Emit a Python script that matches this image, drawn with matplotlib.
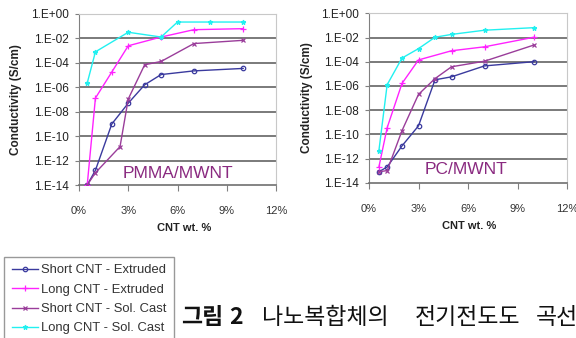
import matplotlib
matplotlib.use("Agg")
import matplotlib.pyplot as plt
from matplotlib.ticker import FixedLocator, FuncFormatter, NullLocator

# ---------------- data ----------------
series_names = ["Short CNT - Extruded", "Long CNT - Extruded",
                "Short CNT - Sol. Cast", "Long CNT - Sol. Cast"]

# PMMA/MWNT (left panel)
pmma_short_ext_x = [0.5, 1, 2, 3, 4, 5, 7, 10]
pmma_short_ext_y = [1e-14, 1.6e-13, 1e-9, 5e-8, 1.6e-6, 1.1e-5, 2.2e-5, 3.5e-5]
pmma_long_ext_x = [0.5, 1, 2, 3, 5, 7, 10]
pmma_long_ext_y = [1e-14, 1.3e-7, 1.8e-5, 2.5e-3, 1.3e-2, 5.2e-2, 6.3e-2]
pmma_short_sol_x = [0.5, 1, 2.5, 3, 4, 5, 7, 10]
pmma_short_sol_y = [1e-14, 1e-13, 1.4e-11, 1.1e-7, 7e-5, 1.3e-4, 3.8e-3, 7e-3]
pmma_long_sol_x = [0.5, 1, 3, 5, 6, 8, 10]
pmma_long_sol_y = [2.2e-6, 8e-4, 3.2e-2, 1.3e-2, 0.22, 0.22, 0.22]

# PC/MWNT (right panel)
pc_short_ext_x = [0.6, 1.1, 2, 3, 4, 5, 7, 10]
pc_short_ext_y = [8e-14, 2e-13, 1.1e-11, 5e-10, 3.2e-6, 5.6e-6, 4.5e-5, 1e-4]
pc_long_ext_x = [0.6, 1.1, 2, 3, 5, 7, 10]
pc_long_ext_y = [2e-13, 3.5e-10, 1.6e-6, 1.4e-4, 8e-4, 1.7e-3, 1.05e-2]
pc_short_sol_x = [0.6, 1.1, 2, 3, 4, 5, 7, 10]
pc_short_sol_y = [8e-14, 1e-13, 2e-10, 2e-7, 4e-6, 3.8e-5, 1.1e-4, 2.4e-3]
pc_long_sol_x = [0.6, 1.1, 2, 3, 4, 5, 7, 10]
pc_long_sol_y = [4.5e-12, 1.25e-6, 2e-4, 1.2e-3, 1.05e-2, 1.8e-2, 4e-2, 6.5e-2]

panel_titles = ["PMMA/MWNT", "PC/MWNT"]
y_ticks = [1e-14, 1e-12, 1e-10, 1e-8, 1e-6, 1e-4, 1e-2, 1e0]
x_ticks = [0, 3, 6, 9, 12]
x_label = "CNT wt. %"
y_label = "Conductivity (S/cm)"
caption_words = ["그림", "2", "나노복합체의", "전기전도도", "곡선"]

# ---------------- style ----------------
colors = ["#3a3a9e", "#ff22ff", "#9a3d9a", "#22f0f0"]
markers = ["o", "+", "x", "*"]
msizes = [3.2, 4.5, 3.5, 3.4]

plt.rcParams['font.family'] = ['Liberation Sans', 'DejaVu Sans']

W, H = 576, 338
fig = plt.figure(figsize=(W / 100, H / 100), dpi=100)


def ax_rect(x0, x1, ytop, ybot):
    return [x0 / W, 1 - ybot / H, (x1 - x0) / W, (ybot - ytop) / H]


axL = fig.add_axes(ax_rect(79, 276, 14, 185))
axR = fig.add_axes(ax_rect(369, 567, 13.3, 182.7))

panels = [
    (axL, [(pmma_short_ext_x, pmma_short_ext_y), (pmma_long_ext_x, pmma_long_ext_y),
           (pmma_short_sol_x, pmma_short_sol_y), (pmma_long_sol_x, pmma_long_sol_y)],
     panel_titles[0], (0.503, 0.07), (0.533, -0.222), -0.287),
    (axR, [(pc_short_ext_x, pc_short_ext_y), (pc_long_ext_x, pc_long_ext_y),
           (pc_short_sol_x, pc_short_sol_y), (pc_long_sol_x, pc_long_sol_y)],
     panel_titles[1], (0.4875, 0.078), (0.508, -0.226), -0.285),
]


def yfmt(v, pos):
    import math
    e = int(round(math.log10(v)))
    sign = "+" if e >= 0 else "-"
    return f"1.E{sign}{abs(e):02d}"


handles = []
for ax, data, title, tpos, xlpos, ylx in panels:
    ax.set_yscale("log")
    ax.set_ylim(1e-14, 1e0)
    ax.set_xlim(0, 12)
    for i, (xs, ys) in enumerate(data):
        mfc = "none" if markers[i] == "o" else colors[i]
        h, = ax.plot(xs, ys, color=colors[i], lw=1.0, marker=markers[i],
                     ms=msizes[i], mfc=mfc, mec=colors[i], mew=0.9,
                     label=series_names[i], zorder=3)
        if ax is axL:
            handles.append(h)
    ax.yaxis.set_major_locator(FixedLocator(y_ticks))
    ax.yaxis.set_minor_locator(NullLocator())
    ax.yaxis.set_major_formatter(FuncFormatter(yfmt))
    ax.xaxis.set_major_locator(FixedLocator(x_ticks))
    ax.xaxis.set_major_formatter(FuncFormatter(lambda v, p: f"{v:.0f}%"))
    for t in y_ticks[1:-1]:
        ax.axhline(t, color="#7a7a7a", lw=1.4, zorder=1)
    ax.tick_params(axis="y", direction="out", length=3, width=0.8,
                   color="#808080", labelsize=8.5, pad=4, labelcolor="#222222")
    ax.tick_params(axis="x", direction="out", length=4, width=0.8,
                   color="#808080", labelsize=8, pad=11, labelcolor="#333333")
    for s in ["top", "right"]:
        ax.spines[s].set_color("#c8c8c8")
        ax.spines[s].set_linewidth(0.8)
    ax.spines["left"].set_color("#808080")
    ax.spines["bottom"].set_color("#707070")
    ax.spines["bottom"].set_linewidth(1.2)
    ax.set_ylabel(y_label, fontsize=8.5, fontweight="bold", color="#222222")
    ax.yaxis.set_label_coords(ylx, 0.5)
    ax.set_xlabel(x_label, fontsize=8, fontweight="bold", color="#222222")
    ax.xaxis.set_label_coords(xlpos[0], xlpos[1])
    ax.text(tpos[0], tpos[1], title, transform=ax.transAxes, ha="center",
            va="center", fontsize=12.5, color="#8a2a80")

leg = fig.legend(handles=handles, loc="upper left",
                 bbox_to_anchor=(4 / W, 1 - 256.5 / H), fontsize=9.4,
                 frameon=True, fancybox=False, handlelength=2.0,
                 handletextpad=0.2, labelspacing=0.55, borderpad=0.6,
                 borderaxespad=0)
leg.get_frame().set_edgecolor("#808080")
leg.get_frame().set_linewidth(1.0)
for t in leg.get_texts():
    t.set_color("#333333")

cjk = ['Noto Sans CJK KR', 'DejaVu Sans']
cap_x = [181, 229.5, 262.5, 414.5, 536]
cap_bold = [True, True, False, False, False]
for word, x, b in zip(caption_words, cap_x, cap_bold):
    fig.text(x / W, 1 - 317 / H, word, family=cjk,
             fontweight="bold" if b else "normal",
             fontsize=16.5, ha="left", va="center", color="#111111")

fig.savefig("out.png", dpi=100)
